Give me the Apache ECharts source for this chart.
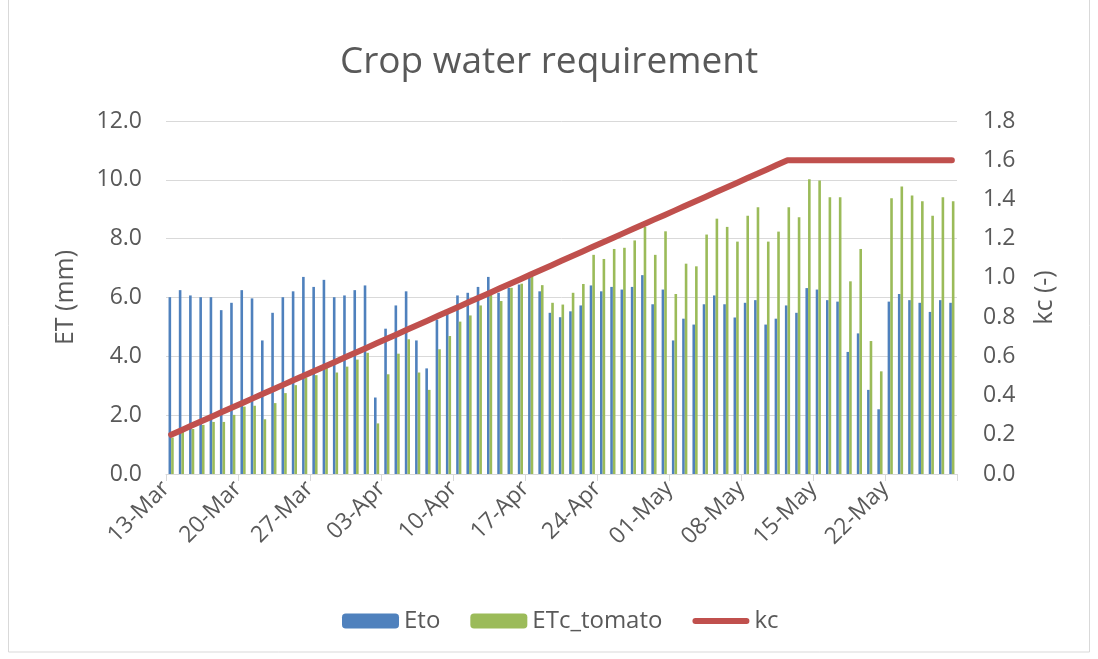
<!DOCTYPE html>
<html>
<head>
<meta charset="utf-8">
<script src="https://cdn.jsdelivr.net/npm/echarts@6/dist/echarts.min.js"></script>
<style>
html,body{margin:0;padding:0;background:#fff;}
#c{width:1098px;height:659px;}
</style>
</head>
<body>
<div id="c"></div>
<script>
// Axis dates (13-Mar .. 29-May); bars/line use the first 77 days
const dates = [
 '13-Mar','14-Mar','15-Mar','16-Mar','17-Mar','18-Mar','19-Mar','20-Mar','21-Mar','22-Mar','23-Mar','24-Mar','25-Mar','26-Mar','27-Mar','28-Mar','29-Mar','30-Mar','31-Mar',
 '01-Apr','02-Apr','03-Apr','04-Apr','05-Apr','06-Apr','07-Apr','08-Apr','09-Apr','10-Apr','11-Apr','12-Apr','13-Apr','14-Apr','15-Apr','16-Apr','17-Apr','18-Apr','19-Apr','20-Apr','21-Apr','22-Apr','23-Apr','24-Apr','25-Apr','26-Apr','27-Apr','28-Apr','29-Apr','30-Apr',
 '01-May','02-May','03-May','04-May','05-May','06-May','07-May','08-May','09-May','10-May','11-May','12-May','13-May','14-May','15-May','16-May','17-May','18-May','19-May','20-May','21-May','22-May','23-May','24-May','25-May','26-May','27-May','28-May','29-May'
];
const days = dates.slice(0, 77);

const eto = [
 6.01,6.25,6.07,6.01,6.01,5.57,5.82,6.25,5.97,4.54,5.48,6.01,6.21,6.70,6.36,6.60,6.01,6.07,6.25,6.41,
 2.60,4.94,5.73,6.21,4.54,3.59,5.25,5.48,6.07,6.16,6.36,6.70,6.16,6.33,6.44,6.72,6.21,5.48,5.33,5.53,
 5.73,6.41,6.21,6.36,6.27,6.36,6.76,5.77,6.27,4.54,5.28,5.08,5.77,6.07,5.77,5.32,5.82,5.91,5.08,5.28,
 5.73,5.48,6.32,6.27,5.91,5.86,4.15,4.78,2.86,2.20,5.86,6.12,5.91,5.82,5.51,5.91,5.82
];
const etcTomato = [
 1.24,1.45,1.53,1.67,1.77,1.77,2.01,2.29,2.32,1.86,2.41,2.75,3.02,3.28,3.36,3.62,3.45,3.65,3.89,4.12,
 1.72,3.39,4.09,4.58,3.45,2.86,4.24,4.69,5.18,5.39,5.73,6.16,5.88,6.33,6.47,6.78,6.42,5.82,5.76,6.16,
 6.46,7.45,7.31,7.65,7.69,7.94,8.40,7.45,8.25,6.12,7.15,7.06,8.14,8.68,8.40,7.90,8.78,9.07,7.90,8.24,
 9.07,8.73,10.02,9.98,9.41,9.41,6.55,7.65,4.52,3.49,9.37,9.77,9.47,9.27,8.78,9.41,9.27
];
const kc = [
 0.200,0.223,0.247,0.270,0.293,0.317,0.340,0.363,0.387,0.410,0.433,0.457,0.480,0.503,0.527,0.550,0.573,0.597,0.620,0.643,
 0.667,0.690,0.713,0.737,0.760,0.783,0.807,0.830,0.853,0.877,0.900,0.923,0.947,0.970,0.993,1.017,1.040,1.063,1.087,1.110,
 1.133,1.157,1.180,1.203,1.227,1.250,1.273,1.297,1.320,1.343,1.367,1.390,1.413,1.437,1.460,1.483,1.507,1.530,1.553,1.577,
 1.600,1.600,1.600,1.600,1.600,1.600,1.600,1.600,1.600,1.600,1.600,1.600,1.600,1.600,1.600,1.600,1.600
];

const FONT = 'Open Sans';
const TXT = '#595959';
const chart = echarts.init(document.getElementById('c'), null, {renderer:'canvas'});
chart.setOption({
  animation:false,
  backgroundColor:'#ffffff',
  textStyle:{fontFamily:FONT, color:TXT},
  title:{text:'Crop water requirement', left:'center', top:39,
    textStyle:{fontFamily:FONT, fontSize:37, fontWeight:'normal', color:TXT}},
  graphic:[{type:'rect', shape:{x:8.5, y:-2, width:1081, height:654},
    style:{fill:null, stroke:'#d9d9d9', lineWidth:1}, silent:true}],
  legend:{left:337, top:604, itemWidth:57, itemHeight:15, itemGap:30,
    textStyle:{fontFamily:FONT, fontSize:24, color:TXT},
    data:[
      {name:'Eto'},
      {name:'ETc_tomato'},
      {name:'kc', icon:'path://M0,0 M57,15 M3,4.5 L54,4.5 A3,3 0 0 1 54,10.5 L3,10.5 A3,3 0 0 1 3,4.5 Z'}
    ]},
  grid:{left:166, right:141, top:121, bottom:185},
  xAxis:[
    {type:'category', data:days, boundaryGap:true, show:false},
    {type:'category', data:dates, boundaryGap:false, position:'bottom',
     axisLine:{show:true, lineStyle:{color:'#d9d9d9', width:1}},
     axisTick:{show:true, length:7, lineStyle:{color:'#d9d9d9'}, interval:(i)=> i % 7 === 0},
     axisLabel:{rotate:45, margin:11, fontFamily:FONT, fontSize:23, color:TXT,
       interval:(i)=> i % 7 === 0 && i < 77},
     splitLine:{show:false}}
  ],
  yAxis:[
    {type:'value', min:0, max:12, interval:2, position:'left',
     name:'ET (mm)', nameLocation:'middle', nameGap:88, nameRotate:90,
     nameTextStyle:{fontFamily:FONT, fontSize:25, color:TXT},
     axisLine:{show:false}, axisTick:{show:false},
     axisLabel:{margin:24, fontFamily:FONT, fontSize:23, color:TXT, formatter:(v)=>v.toFixed(1)},
     splitLine:{show:true, lineStyle:{color:'#d9d9d9', width:1}}},
    {type:'value', min:0, max:1.8, interval:0.2, position:'right',
     name:'kc (-)', nameLocation:'middle', nameGap:75, nameRotate:90,
     nameTextStyle:{fontFamily:FONT, fontSize:25, color:TXT},
     axisLine:{show:false}, axisTick:{show:false},
     axisLabel:{margin:26, fontFamily:FONT, fontSize:23, color:TXT, formatter:(v)=>v.toFixed(1)},
     splitLine:{show:false}}
  ],
  series:[
    {name:'Eto', type:'bar', xAxisIndex:0, yAxisIndex:0, data:eto, barWidth:2.6, barGap:'0%',
     itemStyle:{color:'#4f81bd'}},
    {name:'ETc_tomato', type:'bar', xAxisIndex:0, yAxisIndex:0, data:etcTomato, barWidth:2.6, barGap:'0%',
     itemStyle:{color:'#9bbb59'}},
    {name:'kc', type:'line', xAxisIndex:0, yAxisIndex:1, data:kc, symbol:'none', showSymbol:false,
     lineStyle:{color:'#c0504d', width:6, cap:'round', join:'round'}, itemStyle:{color:'#c0504d'}, z:5}
  ]
});
</script>
</body>
</html>
